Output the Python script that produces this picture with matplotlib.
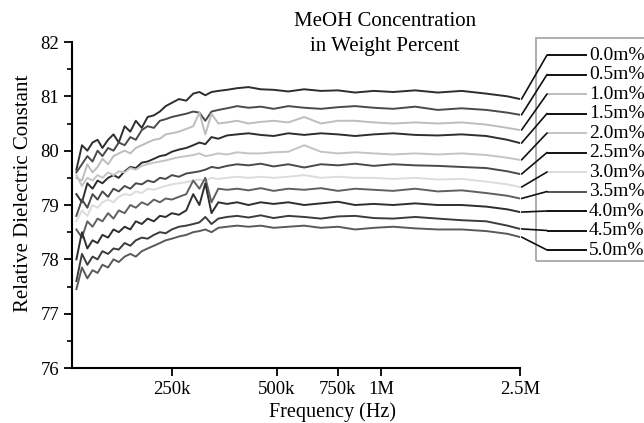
import matplotlib
matplotlib.use("Agg")
import matplotlib.pyplot as plt
from matplotlib.patches import Rectangle, ConnectionPatch
from matplotlib.lines import Line2D
from matplotlib.ticker import FixedLocator, MultipleLocator, NullLocator

plt.rcParams['font.family'] = ['Liberation Serif', 'DejaVu Serif']

freqs = [133e3, 138e3, 143e3, 148e3, 153e3, 158e3, 164e3, 170e3, 176e3, 183e3,
         190e3, 197e3, 205e3, 213e3, 222e3, 231e3, 240e3, 250e3, 262e3, 275e3,
         288e3, 300e3, 312e3, 325e3, 340e3, 360e3, 385e3, 415e3, 450e3, 490e3,
         540e3, 600e3, 670e3, 750e3, 840e3, 950e3, 1.08e6, 1.25e6, 1.45e6, 1.7e6,
         2.0e6, 2.3e6, 2.5e6]

labels = ["0.0m%", "0.5m%", "1.0m%", "1.5m%", "2.0m%", "2.5m%",
          "3.0m%", "3.5m%", "4.0m%", "4.5m%", "5.0m%"]

eps_00 = [79.65, 80.1, 80.0, 80.15, 80.2, 80.05, 80.2, 80.3, 80.15, 80.45,
          80.35, 80.55, 80.42, 80.62, 80.65, 80.72, 80.82, 80.88, 80.95, 80.92,
          81.05, 81.08, 81.02, 81.08, 81.1, 81.12, 81.15, 81.17, 81.13, 81.12,
          81.09, 81.13, 81.1, 81.11, 81.07, 81.1, 81.08, 81.11, 81.07, 81.1,
          81.05, 81.0, 80.95]
eps_05 = [79.6, 79.75, 79.9, 79.8, 80.0, 79.9, 80.05, 80.0, 80.15, 80.1,
          80.25, 80.2, 80.38, 80.45, 80.42, 80.55, 80.58, 80.62, 80.65, 80.68,
          80.72, 80.7, 80.55, 80.72, 80.75, 80.78, 80.82, 80.79, 80.81, 80.77,
          80.82, 80.79, 80.77, 80.8, 80.82, 80.79, 80.77, 80.81, 80.75, 80.78,
          80.75, 80.7, 80.66]
eps_10 = [79.5, 79.45, 79.75, 79.6, 79.7, 79.85, 79.75, 79.9, 79.95, 80.0,
          79.95, 80.05, 80.1, 80.15, 80.2, 80.22, 80.3, 80.32, 80.35, 80.4,
          80.45, 80.7, 80.3, 80.68, 80.5, 80.52, 80.55, 80.5, 80.53, 80.55,
          80.52, 80.62, 80.5, 80.55, 80.55, 80.52, 80.5, 80.52, 80.5, 80.52,
          80.48, 80.42, 80.38]
eps_15 = [79.2, 79.05, 79.4, 79.3, 79.45, 79.4, 79.5, 79.55, 79.5, 79.62,
          79.7, 79.68, 79.78, 79.8, 79.85, 79.9, 79.92, 79.98, 80.02, 80.05,
          80.1, 80.15, 80.12, 80.25, 80.22, 80.28, 80.3, 80.32, 80.29, 80.27,
          80.32, 80.29, 80.32, 80.3, 80.27, 80.3, 80.32, 80.29, 80.28, 80.3,
          80.27, 80.2, 80.14]
eps_20 = [79.55, 79.35, 79.5, 79.45, 79.55, 79.5, 79.6, 79.55, 79.62, 79.6,
          79.68, 79.65, 79.72, 79.75, 79.78, 79.8, 79.82, 79.85, 79.88, 79.9,
          79.92, 79.95, 79.9, 79.92, 79.95, 79.93, 79.97, 79.95, 79.95, 79.97,
          79.98, 80.1, 79.98, 79.95, 79.97, 79.95, 79.93, 79.95, 79.93, 79.95,
          79.92, 79.87, 79.83]
eps_25 = [78.8, 79.1, 78.95, 79.2, 79.1, 79.25, 79.15, 79.3, 79.25, 79.35,
          79.3, 79.4, 79.38, 79.45, 79.42, 79.5, 79.48, 79.55, 79.52, 79.58,
          79.6, 79.62, 79.65, 79.7, 79.68, 79.72, 79.75, 79.73, 79.76, 79.71,
          79.75, 79.69, 79.75, 79.73, 79.76, 79.72, 79.75, 79.73, 79.72, 79.7,
          79.68, 79.62, 79.57]
eps_30 = [78.7, 78.9, 78.8, 79.0, 78.95, 79.05, 79.1, 79.05, 79.15, 79.2,
          79.18, 79.25, 79.22, 79.3, 79.28, 79.32, 79.35, 79.38, 79.4, 79.42,
          79.45, 79.47, 79.45, 79.5, 79.48, 79.5, 79.52, 79.5, 79.52, 79.5,
          79.52, 79.55, 79.5, 79.52, 79.5, 79.5, 79.48, 79.5, 79.47, 79.48,
          79.43, 79.38, 79.33]
eps_35 = [78.55, 78.4, 78.7, 78.6, 78.75, 78.7, 78.85, 78.75, 78.9, 78.85,
          79.0, 78.95, 79.05, 79.0, 79.1, 79.05, 79.12, 79.1, 79.15, 79.2,
          79.45, 79.3, 79.5, 79.05, 79.3, 79.28, 79.3, 79.27, 79.31, 79.26,
          79.3, 79.28, 79.31, 79.26, 79.3, 79.28, 79.26, 79.3, 79.25, 79.27,
          79.22, 79.17, 79.12]
eps_40 = [78.0, 78.5, 78.2, 78.35, 78.3, 78.45, 78.4, 78.55, 78.5, 78.6,
          78.55, 78.7, 78.65, 78.75, 78.7, 78.8, 78.78, 78.85, 78.82, 78.9,
          79.2, 79.0, 79.4, 78.85, 79.05, 79.02, 79.05, 79.0, 79.05, 79.02,
          79.05, 79.0, 79.03, 79.06, 79.0, 79.02, 79.0, 79.03, 79.0, 79.0,
          78.97, 78.92, 78.87]
eps_45 = [77.6, 78.1, 77.9, 78.05, 78.0, 78.15, 78.1, 78.2, 78.18, 78.3,
          78.25, 78.35, 78.4, 78.38, 78.45, 78.5, 78.48, 78.55, 78.6, 78.62,
          78.65, 78.68, 78.78, 78.65, 78.75, 78.78, 78.8, 78.77, 78.81, 78.76,
          78.8, 78.78, 78.75, 78.79, 78.8, 78.76, 78.75, 78.78, 78.75, 78.72,
          78.7, 78.62, 78.56]
eps_50 = [77.45, 77.85, 77.65, 77.8, 77.75, 77.9, 77.85, 78.0, 77.95, 78.05,
          78.1, 78.05, 78.15, 78.2, 78.25, 78.3, 78.35, 78.38, 78.42, 78.45,
          78.5, 78.52, 78.55, 78.5, 78.58, 78.6, 78.62, 78.6, 78.62, 78.58,
          78.6, 78.62, 78.58, 78.6, 78.55, 78.58, 78.6, 78.57, 78.55, 78.55,
          78.52, 78.47, 78.41]

series = [eps_00, eps_05, eps_10, eps_15, eps_20, eps_25,
          eps_30, eps_35, eps_40, eps_45, eps_50]
colors = ['#2e2e2e', '#4a4a4a', '#bdbdbd', '#2e2e2e', '#c4c4c4', '#4a4a4a',
          '#dcdcdc', '#606060', '#2e2e2e', '#3c3c3c', '#5a5a5a']
leg_colors = ['#111111', '#111111', '#bdbdbd', '#111111', '#c4c4c4', '#111111',
              '#dcdcdc', '#555555', '#111111', '#111111', '#111111']

xticks = [250e3, 500e3, 750e3, 1e6, 2.5e6]
xticklabels = ["250k", "500k", "750k", "1M", "2.5M"]
yticks = [76, 77, 78, 79, 80, 81, 82]

fig = plt.figure(figsize=(6.44, 4.23), dpi=100)
ax = fig.add_axes([0.1118, 0.130, 0.6957, 0.7707])

for vals, c in zip(series, colors):
    ax.plot(freqs, vals, color=c, lw=1.4, solid_joinstyle='round')

ax.set_xscale('log')
ax.set_xlim(129200, 2.5e6)
ax.set_ylim(76, 82)
ax.xaxis.set_major_locator(FixedLocator(xticks))
ax.xaxis.set_minor_locator(NullLocator())
ax.set_xticklabels(xticklabels)
ax.set_yticks(yticks)
ax.yaxis.set_minor_locator(MultipleLocator(0.5))
ax.tick_params(axis='both', which='major', direction='out', length=6, width=1.3,
               labelsize=13.5, pad=3)
ax.tick_params(axis='y', which='minor', direction='out', length=3.5, width=1.2)
for s in ['top', 'right']:
    ax.spines[s].set_visible(False)
for s in ['left', 'bottom']:
    ax.spines[s].set_linewidth(1.5)

fig.text(333 / 644, 1 - 412 / 423, "Frequency (Hz)", ha='center', va='center',
         fontsize=14.5)
fig.text(0.036, 1 - 193 / 423, "Relative Dielectric Constant", rotation=90,
         ha='center', va='center', fontsize=15)

fig.text(385 / 644, 1 - 22 / 423, "MeOH Concentration", ha='center', va='center',
         fontsize=15)
fig.text(385 / 644, 1 - 47 / 423, "in Weight Percent", ha='center', va='center',
         fontsize=15)

# legend box (drawn manually with leader lines)
box_top = (368 - 38) / 326.0
box_bot = (368 - 261) / 326.0
ax.add_patch(Rectangle(((536 - 72) / 448.0, box_bot), 0.5, box_top - box_bot,
                       transform=ax.transAxes, fill=False, edgecolor='#a8a8a8',
                       lw=1.3, clip_on=False))
for i, (lab, vals, lc) in enumerate(zip(labels, series, leg_colors)):
    ypix = 55 + 19.5 * i
    yax = (368 - ypix) / 326.0
    ax.add_line(Line2D([(548 - 72) / 448.0, (586 - 72) / 448.0], [yax, yax],
                       transform=ax.transAxes, color=lc, lw=1.4, clip_on=False))
    ax.text((589 - 72) / 448.0, yax, lab, transform=ax.transAxes, ha='left',
            va='center', fontsize=14, clip_on=False)
    con = ConnectionPatch(xyA=(freqs[-1] * 1.01, vals[-1]), coordsA=ax.transData,
                          xyB=((547 - 72) / 448.0, yax), coordsB=ax.transAxes,
                          color='#111111', lw=1.2)
    fig.add_artist(con)

fig.savefig("out.png", dpi=100)
